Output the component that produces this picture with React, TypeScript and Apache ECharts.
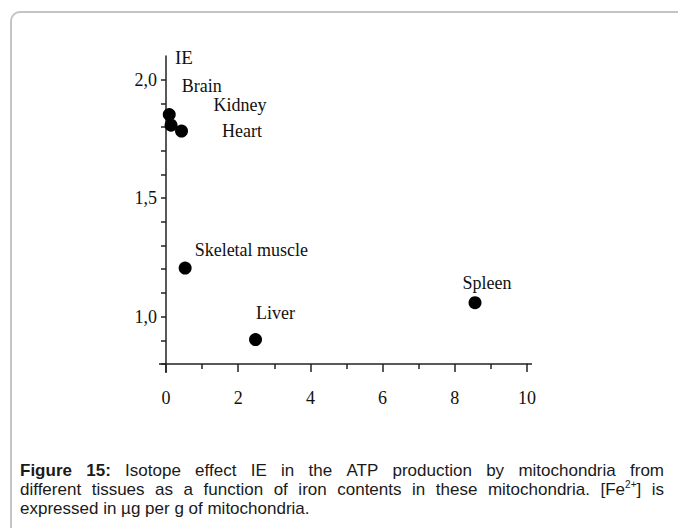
import React, { useEffect, useRef } from "react";
import * as echarts from "echarts";

const tissues = ["Brain", "Kidney", "Heart", "Skeletal muscle", "Liver", "Spleen"];
const ironContent = [0.09, 0.14, 0.43, 0.53, 2.48, 8.56];
const isotopeEffect = [1.853, 1.808, 1.783, 1.205, 0.903, 1.059];
const xTicks = [0, 2, 4, 6, 8, 10];
const yTickLabels = [1.0, 1.5, 2.0];

const captionLine1 = ["Isotope", "effect", "IE", "in", "the", "ATP", "production", "by", "mitochondria", "from"];
const captionLine2 = ["different", "tissues", "as", "a", "function", "of", "iron", "contents", "in", "these", "mitochondria."];
const captionLine3 = "expressed in µg per g of mitochondria.";

const labelOffsets: Record<string, [number, number]> = {
  Brain: [19, -22],
  Kidney: [49, -14],
  Heart: [47, 6],
  "Skeletal muscle": [16, -12],
  Liver: [7, -20],
  Spleen: [-6, -13],
};

const W = 678;
const H = 528;
const GL = 166;
const GR = 527;
const GT = 56;
const GB = 364;
const SERIF = '"Liberation Serif", "Times New Roman", serif';
const SANS = '"Liberation Sans", Arial, sans-serif';

function measure(text: string, font: string): number {
  const c = document.createElement("canvas").getContext("2d")!;
  c.font = font;
  return c.measureText(text).width;
}

export default function App() {
  const ref = useRef<HTMLDivElement>(null);
  useEffect(() => {
    if (!ref.current) return;
    const chart = echarts.init(ref.current, null, { renderer: "svg" });

    const FS = 17;
    const SUP = 10;
    const capColor = "#1a1a1a";
    const fontN = `${FS}px ${SANS}`;
    const fontB = `bold ${FS}px ${SANS}`;
    const fontS = `${SUP}px ${SANS}`;
    const CX0 = 20;
    const CX1 = 664;
    const graphics: any[] = [];

    type Tok = { t: string; bold?: boolean };
    const l1: Tok[] = [{ t: "Figure", bold: true }, { t: "15:", bold: true }, ...captionLine1.map((t) => ({ t }))];
    const placeJustified = (toks: Tok[], y: number, extraWidths: number[] = []) => {
      const widths = toks.map((k) => measure(k.t, k.bold ? fontB : fontN));
      const all = widths.concat(extraWidths);
      const total = all.reduce((a, b) => a + b, 0);
      const gap = (CX1 - CX0 - total) / (all.length - 1);
      let x = CX0;
      const xs: number[] = [];
      all.forEach((w) => {
        xs.push(x);
        x += w + gap;
      });
      toks.forEach((k, i) => {
        graphics.push({
          type: "text",
          x: xs[i],
          y,
          style: {
            text: k.t,
            fill: capColor,
            font: k.bold ? fontB : fontN,
            textVerticalAlign: "middle",
          },
        });
      });
      return xs;
    };
    placeJustified(l1, 470);

    const l2: Tok[] = captionLine2.map((t) => ({ t }));
    const wFe = measure("[Fe", fontN);
    const wSup = measure("2+", fontS);
    const wBr = measure("]", fontN);
    const wIs = measure("is", fontN);
    const xs2 = placeJustified(l2, 489, [wFe + wSup + wBr, wIs]);
    const xFe = xs2[l2.length];
    const xIs = xs2[l2.length + 1];
    graphics.push(
      { type: "text", x: xFe, y: 489, style: { text: "[Fe", fill: capColor, font: fontN, textVerticalAlign: "middle" } },
      { type: "text", x: xFe + wFe, y: 484, style: { text: "2+", fill: capColor, font: fontS, textVerticalAlign: "middle" } },
      { type: "text", x: xFe + wFe + wSup, y: 489, style: { text: "]", fill: capColor, font: fontN, textVerticalAlign: "middle" } },
      { type: "text", x: xIs, y: 489, style: { text: "is", fill: capColor, font: fontN, textVerticalAlign: "middle" } },
      { type: "text", x: CX0, y: 508, style: { text: captionLine3, fill: capColor, font: fontN, textVerticalAlign: "middle" } }
    );

    graphics.unshift({
      type: "rect",
      shape: { x: 11, y: 12, width: 720, height: 600, r: 9 },
      style: { fill: "none", stroke: "#c4c4c4", lineWidth: 2 },
      z: -1,
    });
    const axisStyle = { stroke: "#222", lineWidth: 1.5 };
    graphics.push(
      { type: "line", shape: { x1: GL - 7, y1: GB, x2: GL, y2: GB }, style: axisStyle },
      { type: "line", shape: { x1: GR, y1: GB, x2: GR + 5, y2: GB }, style: axisStyle },
      { type: "line", shape: { x1: GL, y1: GB, x2: GL, y2: GB + 9 }, style: axisStyle }
    );

    const fmtY = (v: number) => {
      const r = Math.round(v * 10);
      const match = yTickLabels.some((t) => Math.round(t * 10) === r);
      return match ? (r / 10).toFixed(1).replace(".", ",") : "";
    };

    chart.setOption({
      animation: false,
      backgroundColor: "#fff",
      grid: { left: GL, right: W - GR, top: GT, bottom: H - GB },
      xAxis: {
        type: "value",
        min: xTicks[0],
        max: xTicks[xTicks.length - 1],
        interval: 2,
        splitLine: { show: false },
        axisLine: { show: true, onZero: false, lineStyle: { color: "#222", width: 1.5 } },
        axisTick: { show: true, length: 8, lineStyle: { color: "#222", width: 1.5 } },
        minorTick: { show: true, splitNumber: 2, length: 5, lineStyle: { color: "#222", width: 1.5 } },
        axisLabel: { margin: 25, fontFamily: SERIF, fontSize: 18, color: "#111" },
      },
      yAxis: {
        type: "value",
        min: 0.8,
        max: 2.1,
        interval: 0.1,
        name: "IE",
        nameLocation: "end",
        nameGap: -1,
        nameTextStyle: { fontFamily: SERIF, fontSize: 19, color: "#111", align: "left", verticalAlign: "middle", padding: [0, 0, 0, 9] },
        splitLine: { show: false },
        axisLine: { show: true, onZero: false, lineStyle: { color: "#222", width: 1.5 } },
        axisTick: { show: true, length: 5, lineStyle: { color: "#222", width: 1.5 } },
        axisLabel: { margin: 9, fontFamily: SERIF, fontSize: 18, color: "#111", formatter: fmtY, showMaxLabel: false },
      },
      series: [
        {
          type: "scatter",
          symbol: "circle",
          symbolSize: 13,
          itemStyle: { color: "#000", opacity: 1 },
          data: tissues.map((name, i) => ({
            name,
            value: [ironContent[i], isotopeEffect[i]],
            label: {
              show: true,
              formatter: name,
              position: labelOffsets[name],
              align: "left",
              verticalAlign: "middle",
              fontFamily: SERIF,
              fontSize: 18,
              color: "#111",
            },
          })),
        },
      ],
      graphic: graphics,
    });
    return () => chart.dispose();
  }, []);
  return <div ref={ref} style={{ width: W, height: H, position: "absolute", left: 0, top: 0 }} />;
}
